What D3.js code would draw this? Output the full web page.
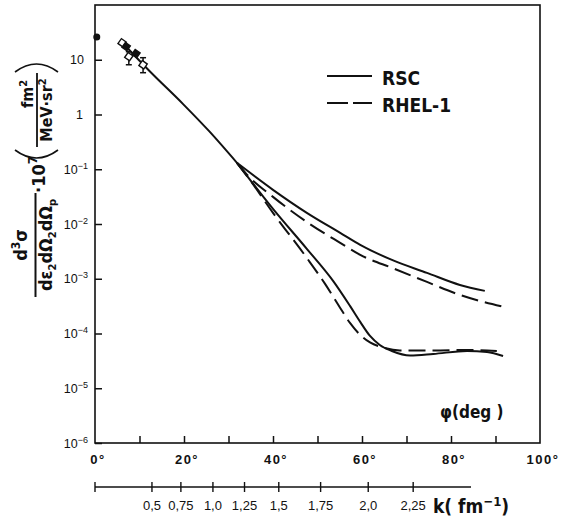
<!DOCTYPE html>
<html>
<head>
<meta charset="utf-8">
<script src="https://cdn.jsdelivr.net/npm/d3@7"></script>
<style>
  body { margin: 0; background: #fff; }
  text { fill: #111; }
</style>
</head>
<body>
<div id="chart"></div>
<script>
// angle phi (deg) and cross-section values
const phiCommon = [5.9, 12.3, 19.8, 25.6, 31.9];
const valCommon = [21.6, 6.17, 1.55, 0.501, 0.131];

const phiRscHi = [31.9, 40.0, 47.6, 55.1, 59.6, 67.0, 74.6, 82.0, 87.6];
const valRscHi = [0.131, 0.0421, 0.016, 0.00689, 0.00416, 0.00216, 0.00128, 7.71e-4, 6.0e-4];

const phiRhelHi = [31.9, 34.2, 40.0, 47.6, 55.1, 59.6, 67.0, 74.6, 82.0, 92.4];
const valRhelHi = [0.131, 0.0791, 0.0313, 0.0109, 0.00452, 0.00273, 0.00155, 8.75e-4, 5.07e-4, 2.99e-4];

const phiRscLo = [31.9, 40.0, 47.6, 53.5, 57.3, 59.6, 61.8, 64.0, 66.7, 70.8, 76.0, 83.6, 88.1, 91.7];
const valRscLo = [0.131, 0.0189, 0.00352, 9.14e-4, 3.19e-4, 1.63e-4, 9.02e-5, 6.18e-5, 4.8e-5, 3.97e-5, 4.23e-5, 4.8e-5, 4.6e-5, 3.89e-5];

const phiRhelLo = [31.9, 34.8, 40.0, 47.6, 51.7, 55.1, 57.3, 59.6, 61.8, 64.7, 68.5, 76.0, 83.6, 90.3];
const valRhelLo = [0.131, 0.0641, 0.016, 0.0024, 8.05e-4, 2.93e-4, 1.56e-4, 9.42e-5, 6.86e-5, 5.56e-5, 4.9e-5, 4.9e-5, 5.0e-5, 4.8e-5];

// experimental points
const expPhi = [0.4, 6.1, 7.0, 7.6, 9.2, 10.8];
const expVal = [26, 20.4, 17.4, 11.4, 12.9, 8.1];
const expLo  = [null, null, null, 8.1, null, 5.8];
const expHi  = [null, null, null, 14.0, null, 10.9];

// axes
const xTicks = [10, 20, 30, 40, 50, 60, 70, 80, 90];
const xLabels = [0, 20, 40, 60, 80, 100];
const yTickExp = [-6, -5, -4, -3, -2, -1, 0, 1];

// k (fm^-1) secondary scale, with the angle each tick sits at
const kLabels = ["0,5", "0,75", "1,0", "1,25", "1,5", "1,75", "2,0", "2,25"];
const kPhi = [12.8, 19.3, 26.5, 33.6, 41.3, 50.7, 61.4, 71.5];
const kAxisEnd = 84.5;

const legendNames = ["RSC", "RHEL-1"];

const W = 563, H = 517;
const ink = "#111";
const narrow = "'Liberation Sans Narrow', 'DejaVu Sans Condensed', sans-serif";
const plain = "'Liberation Sans', Arial, sans-serif";

const svg = d3.select("#chart").append("svg")
    .attr("width", W)
    .attr("height", H)
    .style("background", "#fff");

const x = d3.scaleLinear().domain([0, 100]).range([95, 540]);
const y = d3.scaleLog().domain([1e-6, 1e2]).range([443, 5]);

// frame
svg.append("rect")
    .attr("x", x(0)).attr("y", y(1e2))
    .attr("width", x(100) - x(0)).attr("height", y(1e-6) - y(1e2))
    .attr("fill", "none").attr("stroke", ink).attr("stroke-width", 1.6);

// left ticks (inward)
let yAxis = svg.append("g")
    .attr("transform", "translate(" + x(0) + ",0)")
    .call(d3.axisLeft(y).tickValues(yTickExp.map(e => Math.pow(10, e))).tickSize(-7).tickFormat(""));
yAxis.select(".domain").remove();
yAxis.selectAll("line").attr("stroke", ink).attr("stroke-width", 1.5);

yTickExp.forEach(e => {
    let t = svg.append("text")
        .attr("y", y(Math.pow(10, e)) + 4.5)
        .attr("text-anchor", "end")
        .style("font-family", plain)
        .style("font-size", "12.5px");
    if (e === 1) {
        t.attr("x", 84).text("10");
    } else if (e === 0) {
        t.attr("x", 83).text("1");
    } else {
        t.attr("x", 88);
        t.append("tspan").text("10");
        t.append("tspan").attr("dy", -5).style("font-size", "9px").text("\u2212" + (-e));
    }
});

// bottom ticks (inward)
let xAxis = svg.append("g")
    .attr("transform", "translate(0," + y(1e-6) + ")")
    .call(d3.axisBottom(x).tickValues(xTicks).tickSize(-7).tickFormat(""));
xAxis.select(".domain").remove();
xAxis.selectAll("line").attr("stroke", ink).attr("stroke-width", 1.5);

svg.selectAll(".xlab")
    .data(xLabels)
    .join("text")
    .attr("class", "xlab")
    .attr("x", d => x(d) + 3)
    .attr("y", 464)
    .attr("text-anchor", "middle")
    .style("font-family", plain)
    .style("font-weight", "bold")
    .style("font-size", "13px")
    .style("letter-spacing", "1.5px")
    .text(d => d + "\u00b0");

svg.append("text")
    .attr("x", 440).attr("y", 418)
    .style("font-family", narrow)
    .style("font-weight", "bold")
    .style("font-size", "17px")
    .text("\u03c6(deg )");

// k axis below
const kY = 487;
svg.append("line")
    .attr("x1", x(0)).attr("x2", x(kAxisEnd))
    .attr("y1", kY).attr("y2", kY)
    .attr("stroke", ink).attr("stroke-width", 1.4);

svg.selectAll(".ktick")
    .data([0].concat(kPhi))
    .join("line")
    .attr("class", "ktick")
    .attr("x1", d => x(d)).attr("x2", d => x(d))
    .attr("y1", kY - 5).attr("y2", kY + 5)
    .attr("stroke", ink).attr("stroke-width", 1.4);

svg.selectAll(".klab")
    .data(kLabels)
    .join("text")
    .attr("class", "klab")
    .attr("x", (d, i) => x(kPhi[i]))
    .attr("y", 510)
    .attr("text-anchor", "middle")
    .style("font-family", plain)
    .style("font-size", "13px")
    .text(d => d);

let kt = svg.append("text")
    .attr("x", 433).attr("y", 513)
    .style("font-family", narrow)
    .style("font-weight", "bold")
    .style("font-size", "19px");
kt.append("tspan").text("k( fm");
kt.append("tspan").attr("dy", -7).style("font-size", "13px").text("\u22121");
kt.append("tspan").attr("dy", 7).text(")");

// y-axis title, rotated
let yt = svg.append("g").attr("transform", "rotate(-90)");
const fracMid = -245, fracHalf = 52;
yt.append("text")
    .attr("x", fracMid).attr("y", 27)
    .attr("text-anchor", "middle")
    .style("font-family", narrow).style("font-weight", "bold").style("font-size", "18px")
    .call(t => {
        t.append("tspan").text("d");
        t.append("tspan").attr("dy", -7).style("font-size", "12px").text("3");
        t.append("tspan").attr("dy", 7).text("\u03c3");
    });
yt.append("line")
    .attr("x1", fracMid - fracHalf).attr("x2", fracMid + fracHalf)
    .attr("y1", 35.5).attr("y2", 35.5)
    .attr("stroke", ink).attr("stroke-width", 2);
yt.append("text")
    .attr("x", fracMid).attr("y", 52)
    .attr("text-anchor", "middle")
    .style("font-family", narrow).style("font-weight", "bold").style("font-size", "18px")
    .call(t => {
        t.append("tspan").text("d\u03b5");
        t.append("tspan").attr("dy", 4).style("font-size", "11px").text("2");
        t.append("tspan").attr("dy", -4).text("d\u03a9");
        t.append("tspan").attr("dy", 4).style("font-size", "11px").text("2");
        t.append("tspan").attr("dy", -4).text("d\u03a9");
        t.append("tspan").attr("dy", 4).style("font-size", "11px").text("p");
    });
yt.append("text")
    .attr("x", -193).attr("y", 45)
    .style("font-family", narrow).style("font-weight", "bold").style("font-size", "18px")
    .call(t => {
        t.append("tspan").text("\u00b710");
        t.append("tspan").attr("dy", -8).style("font-size", "13px").text("7");
    });
// units fraction in parentheses
const uMid = -110, uHalf = 37;
yt.append("text")
    .attr("x", -94).attr("y", 33)
    .attr("text-anchor", "middle")
    .style("font-family", narrow).style("font-weight", "bold").style("font-size", "16px")
    .call(t => {
        t.append("tspan").text("fm");
        t.append("tspan").attr("dy", -6).style("font-size", "11px").text("2");
    });
yt.append("line")
    .attr("x1", uMid - uHalf).attr("x2", uMid + uHalf)
    .attr("y1", 37).attr("y2", 37)
    .attr("stroke", ink).attr("stroke-width", 1.8);
yt.append("text")
    .attr("x", uMid).attr("y", 52)
    .attr("text-anchor", "middle")
    .style("font-family", narrow).style("font-weight", "bold").style("font-size", "16px")
    .call(t => {
        t.append("tspan").text("MeV\u00b7sr");
        t.append("tspan").attr("dy", -6).style("font-size", "11px").text("2");
    });
// parentheses drawn as shallow arcs (screen coords)
[[150, 158], [72, 64]].forEach(p => {
    let path = d3.path();
    path.moveTo(15, p[0]);
    path.quadraticCurveTo(36.5, p[1] + (p[1] - p[0]), 58, p[0]);
    svg.append("path").attr("d", path.toString())
        .attr("fill", "none").attr("stroke", ink).attr("stroke-width", 1.6);
});

// curves
const line = d3.line()
    .x(d => x(d[0]))
    .y(d => y(d[1]))
    .curve(d3.curveMonotoneX);

function drawCurve(phi, val, dashed) {
    svg.append("path")
        .datum(phi.map((p, i) => [p, val[i]]))
        .attr("d", line)
        .attr("fill", "none")
        .attr("stroke", ink)
        .attr("stroke-width", 2)
        .attr("stroke-dasharray", dashed ? "17,7" : null);
}

drawCurve(phiCommon, valCommon, false);
drawCurve(phiRscHi, valRscHi, false);
drawCurve(phiRscLo, valRscLo, false);
drawCurve(phiRhelHi, valRhelHi, true);
drawCurve(phiRhelLo, valRhelLo, true);

// experimental points
expPhi.forEach((p, i) => {
    let cx = x(p), cy = y(expVal[i]);
    if (i === 0) {
        svg.append("circle").attr("cx", cx).attr("cy", cy).attr("r", 3.5).attr("fill", ink);
        return;
    }
    if (expLo[i] !== null) {
        let y0 = y(expLo[i]), y1 = y(expHi[i]);
        svg.append("line").attr("x1", cx).attr("x2", cx).attr("y1", y0).attr("y2", y1)
            .attr("stroke", ink).attr("stroke-width", 1.5);
        [y0, y1].forEach(yy => svg.append("line")
            .attr("x1", cx - 3).attr("x2", cx + 3).attr("y1", yy).attr("y2", yy)
            .attr("stroke", ink).attr("stroke-width", 1.5));
    }
    svg.append("rect")
        .attr("x", cx - 3).attr("y", cy - 3).attr("width", 6).attr("height", 6)
        .attr("transform", "rotate(35," + cx + "," + cy + ")")
        .attr("fill", i % 2 ? "#fff" : ink)
        .attr("stroke", ink).attr("stroke-width", 1.4);
});

// legend
let legend = svg.append("g");
legendNames.forEach((name, i) => {
    let ly = 76 + i * 27;
    legend.append("line")
        .attr("x1", 327).attr("x2", 372).attr("y1", ly).attr("y2", ly)
        .attr("stroke", ink).attr("stroke-width", 2)
        .attr("stroke-dasharray", i ? "21,5" : null);
    legend.append("text")
        .attr("x", 382).attr("y", ly + 8.5)
        .style("font-family", narrow)
        .style("font-weight", "bold")
        .style("font-size", "19px")
        .text(name);
});
</script>
</body>
</html>
